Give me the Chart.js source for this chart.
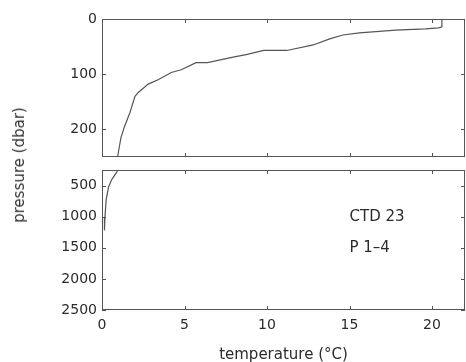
<!DOCTYPE html>
<html>
<head>
<meta charset="utf-8">
<script src="https://cdn.jsdelivr.net/npm/chart.js@4"></script>
<style>
  html, body { margin: 0; padding: 0; background: #fff; overflow: hidden; }
  #wrap { position: relative; width: 466px; height: 362px; }
  #topChart { position: absolute; left: 0; top: 0; }
  #bottomChart { position: absolute; left: 0; top: 165px; }
  #yTitle {
    position: absolute; left: 19px; top: 165px;
    transform: translate(-50%, -50%) rotate(-90deg);
    font: 15px "DejaVu Sans", sans-serif; color: #333; white-space: nowrap;
  }
</style>
</head>
<body>
<div id="wrap">
  <canvas id="topChart" width="466" height="165"></canvas>
  <canvas id="bottomChart" width="466" height="200"></canvas>
  <div id="yTitle">pressure (dbar)</div>
</div>
<script>
// upper 250 dbar
const pressureTop = [0, 14, 16, 18, 20, 25, 29, 36, 47, 57, 57, 64, 70, 79, 79, 92, 97, 110, 118, 133, 140, 169, 196, 215, 240, 250];
const tempTop = [20.6, 20.6, 20.4, 19.6, 17.8, 15.6, 14.6, 13.8, 12.8, 11.2, 9.8, 8.8, 7.8, 6.4, 5.7, 4.8, 4.2, 3.4, 2.8, 2.2, 2.0, 1.7, 1.35, 1.15, 1.0, 0.95];
// deep part
const pressureBottom = [250, 280, 400, 520, 730, 1000, 1220];
const tempBottom = [0.95, 0.9, 0.6, 0.4, 0.25, 0.18, 0.15];

const tempTicks = [0, 5, 10, 15, 20];
const topPressureTicks = [0, 100, 200];
const bottomPressureTicks = [500, 1000, 1500, 2000, 2500];

const labelTexts = ['CTD 23', 'P 1\u20134'];
const labelTemps = [15, 15];
const labelPressures = [1000, 1500];

const ink = '#2b2b2b';
const lineCol = '#555';
const tickFont = { family: 'DejaVu Sans', size: 14 };

function toPoints(xs, ys) {
  return xs.map((x, i) => ({ x: x, y: ys[i] }));
}

// box round the axes plus matlab style ticks pointing inwards
const boxTicks = {
  id: 'boxTicks',
  afterDraw(chart, args, opts) {
    const { ctx, chartArea: a, scales } = chart;
    ctx.save();
    ctx.strokeStyle = lineCol;
    ctx.lineWidth = 1;
    ctx.strokeRect(a.left + 0.5, a.top + 0.5, a.right - a.left - 1, a.bottom - a.top - 1);
    ctx.beginPath();
    tempTicks.forEach(v => {
      const x = Math.round(scales.x.getPixelForValue(v)) + 0.5;
      ctx.moveTo(x, a.top); ctx.lineTo(x, a.top + 4);
      ctx.moveTo(x, a.bottom); ctx.lineTo(x, a.bottom - 4);
    });
    opts.yTicks.forEach(v => {
      const y = Math.round(scales.y.getPixelForValue(v)) + 0.5;
      ctx.moveTo(a.left, y); ctx.lineTo(a.left + 4, y);
      ctx.moveTo(a.right, y); ctx.lineTo(a.right - 4, y);
    });
    ctx.stroke();
    ctx.restore();
  }
};

const textNotes = {
  id: 'textNotes',
  afterDraw(chart, args, opts) {
    if (!opts.show) return;
    const { ctx, scales } = chart;
    ctx.save();
    ctx.fillStyle = ink;
    ctx.font = '15px "DejaVu Sans"';
    ctx.textAlign = 'left';
    ctx.textBaseline = 'middle';
    labelTexts.forEach((t, i) => {
      ctx.fillText(t, scales.x.getPixelForValue(labelTemps[i]), scales.y.getPixelForValue(labelPressures[i]));
    });
    ctx.restore();
  }
};

function makeChart(id, data, yMin, yMax, yTicks, isBottom) {
  return new Chart(document.getElementById(id), {
    type: 'scatter',
    data: {
      datasets: [{
        data: data,
        showLine: true,
        borderColor: lineCol,
        borderWidth: 1.2,
        pointRadius: 0,
        tension: 0
      }]
    },
    options: {
      responsive: false,
      animation: false,
      layout: { padding: isBottom ? { top: 5, right: 1, bottom: 0, left: 0 } : { top: 19, right: 1, bottom: 8, left: 0 } },
      plugins: {
        legend: { display: false },
        tooltip: { enabled: false },
        boxTicks: { yTicks: yTicks },
        textNotes: { show: isBottom }
      },
      scales: {
        x: {
          type: 'linear',
          min: 0,
          max: 22,
          display: isBottom,
          afterBuildTicks: s => { s.ticks = tempTicks.map(v => ({ value: v })); },
          afterFit: s => {
            s.height = isBottom ? 55 : 0;
            s.paddingLeft = 0;
            s.paddingRight = 0;
          },
          grid: { display: false, drawTicks: false },
          border: { display: false },
          ticks: { font: tickFont, color: ink, padding: 7, maxRotation: 0, callback: v => String(v) },
          title: {
            display: true,
            text: 'temperature (°C)',
            color: ink,
            font: { family: 'DejaVu Sans', size: 15 },
            padding: { top: 0, bottom: 1 }
          }
        },
        y: {
          type: 'linear',
          reverse: true,
          min: yMin,
          max: yMax,
          afterBuildTicks: s => { s.ticks = yTicks.map(v => ({ value: v })); },
          afterFit: s => {
            s.width = 102;
            s.paddingTop = 0;
            s.paddingBottom = 0;
          },
          grid: { display: false, drawTicks: false },
          border: { display: false },
          ticks: { font: tickFont, color: ink, padding: 5, callback: v => String(v) }
        }
      }
    },
    plugins: [boxTicks, textNotes]
  });
}

makeChart('topChart', toPoints(tempTop, pressureTop), 0, 250, topPressureTicks, false);
makeChart('bottomChart', toPoints(tempBottom, pressureBottom), 250, 2500, bottomPressureTicks, true);
</script>
</body>
</html>
